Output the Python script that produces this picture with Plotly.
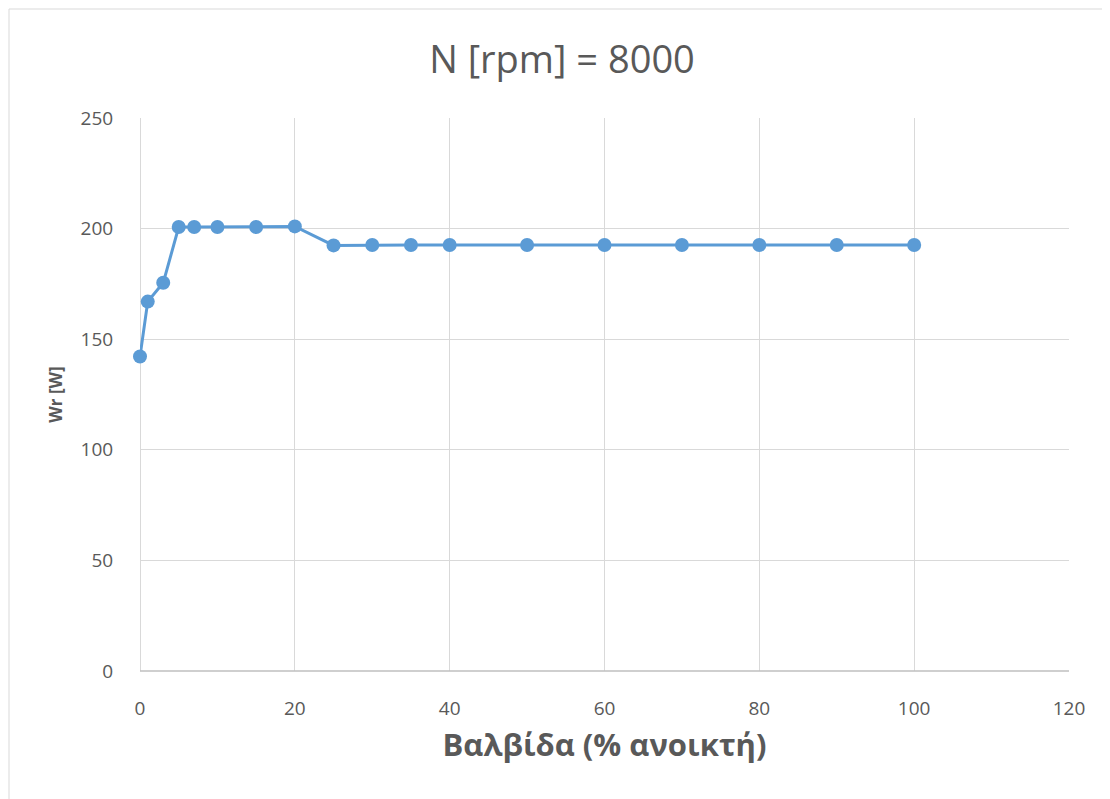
import plotly.graph_objects as go

valve_open = [0, 1, 3, 5, 7, 10, 15, 20, 25, 30, 35, 40, 50, 60, 70, 80, 90, 100]
wr = [142.2, 167.0, 175.5, 200.7, 200.7, 200.7, 200.7, 201.0, 192.4, 192.6, 192.6, 192.6,
      192.6, 192.6, 192.6, 192.6, 192.6, 192.6]

title_text = "N [rpm] = 8000"
x_title = "Βαλβίδα (% ανοικτή)"
y_title = "Wr [W]"

FONT = "Open Sans, sans-serif"

fig = go.Figure()
fig.add_trace(go.Scatter(
    x=valve_open, y=wr, mode="lines+markers",
    line=dict(color="#5B9BD5", width=3),
    marker=dict(color="#5B9BD5", size=14),
    cliponaxis=False,
    showlegend=False,
))

OFF = 8
L, R, T, B = 140 - OFF, 41 + OFF, 118 - OFF, 128 + OFF
W, H = 1110, 799
pw, ph = W - L - R, H - T - B

fig.update_layout(
    width=W, height=H,
    margin=dict(l=L, r=R, t=T, b=B),
    paper_bgcolor="white", plot_bgcolor="white",
    title=dict(text=title_text, x=(562 - OFF) / W, xanchor="center", y=1 - (60 - OFF) / H, yanchor="middle",
               font=dict(family=FONT, size=38, color="#595959")),
    font=dict(family=FONT, color="#595959"),
    xaxis=dict(range=[0, 120], dtick=20, showgrid=True, gridcolor="#D9D9D9", gridwidth=1,
               zeroline=True, zerolinecolor="#D9D9D9", zerolinewidth=1,
               showline=False, ticks="outside", ticklen=20, tickcolor="rgba(0,0,0,0)",
               tickfont=dict(size=19, color="#595959"),
               title=dict(text="<b>" + x_title + "</b>", font=dict(size=31, color="#595959"), standoff=14)),
    yaxis=dict(range=[0, 250], dtick=50, showgrid=True, gridcolor="#D9D9D9", gridwidth=1,
               zeroline=False, showline=False, ticks="outside", ticklen=22, tickcolor="rgba(0,0,0,0)",
               tickfont=dict(size=19, color="#595959"),
               title=dict(text="<b>" + y_title + "</b>", font=dict(size=17, color="#595959"), standoff=13)),
    shapes=[
        dict(type="line", xref="paper", yref="paper", x0=0, x1=1, y0=0, y1=0,
             line=dict(color="#BFBFBF", width=1.5)),
        dict(type="rect", xref="paper", yref="paper",
             x0=-(L - 1) / pw, x1=(W + 20 - L) / pw,
             y0=-(H + 20 - 671) / ph, y1=1 + (T - 1) / ph,
             line=dict(color="#D9D9D9", width=1), fillcolor="rgba(0,0,0,0)"),
    ],
)

fig.write_html("out.html")
